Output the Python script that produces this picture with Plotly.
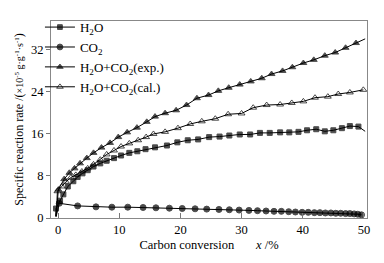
import plotly.graph_objects as go

# H2O (filled squares)
h2o_x = [-0.4, -0.33, 0.33, 0.87, 1.6, 2.5, 3.2, 4.0, 4.85, 5.8, 6.9, 7.95, 9.15, 10.3, 11.65, 12.96, 14.3,
         15.85, 17.8, 19.5, 21.2, 22.9, 24.7, 26.4, 28.0, 29.7, 31.4, 33.0, 34.6, 36.3, 37.8, 39.3,
         40.7, 42.2, 43.6, 45.0, 46.4, 47.7, 49.1, 50.2]
h2o_y = [0.3, 1.8, 3.3, 4.5, 6.0, 7.0, 7.8, 8.5, 9.1, 9.8, 10.4, 10.9, 11.4, 11.9, 12.4, 12.7, 13.1,
         13.45, 13.8, 14.4, 14.8, 14.96, 15.4, 15.5, 15.7, 15.9, 15.9, 16.2, 16.2, 16.3, 16.3, 16.4,
         16.7, 16.9, 16.5, 16.7, 17.1, 17.5, 17.4, 16.5]

# CO2 (filled circles)
co2_x = [-0.3, 0.2, 3.2, 6.2, 8.8, 11.4, 13.9, 16.0, 18.2, 20.3, 22.4, 24.3, 26.3, 28.0, 29.6, 31.2, 32.6,
         34.0, 35.3, 36.5, 37.7, 38.8, 39.9, 40.9, 41.9, 42.8, 43.7, 44.6, 45.4, 46.2, 47.0,
         47.7, 48.4, 49.0, 49.6]
co2_y = [0.3, 2.8, 2.3, 2.12, 2.06, 2.06, 2.0, 1.94, 1.87, 1.81, 1.75, 1.69, 1.63, 1.57, 1.51, 1.45, 1.39,
         1.33, 1.27, 1.27, 1.2, 1.14, 1.08, 1.08, 1.02, 1.02, 0.96, 0.96, 0.9, 0.9, 0.84,
         0.84, 0.78, 0.72, 0.6]

# H2O+CO2 (exp.) (filled triangles)
exp_x = [-0.3, 0.05, 1.0, 1.85, 2.7, 3.6, 4.7, 5.8, 7.1, 8.5, 9.85, 11.3, 12.9, 14.5, 15.85, 17.5, 19.3,
         21.0, 22.7, 24.6, 26.2, 27.9, 29.7, 31.5, 33.3, 34.9, 36.7, 38.3, 40.1, 41.8, 43.6,
         45.3, 47.0, 48.7, 50.2]
exp_y = [0.3, 5.4, 7.4, 8.6, 9.45, 10.4, 11.4, 12.4, 13.4, 14.3, 15.4, 16.3, 17.2, 18.3, 19.3, 19.95, 20.5,
         21.5, 22.8, 23.4, 24.2, 24.8, 25.4, 26.0, 26.6, 27.4, 28.0, 28.7, 29.5, 30.1, 30.9,
         31.5, 32.4, 33.3, 34.1]

# H2O+CO2 (cal.) (open triangles)
cal_x = [-0.3, -0.1, 0.6, 1.3, 2.1, 2.9, 3.9, 4.85, 5.8, 6.9, 7.95, 9.15, 10.3, 11.65, 13.1, 14.4, 15.6,
         17.5, 19.6, 21.6, 23.5, 25.7, 27.8, 30.0, 31.9, 34.1, 36.3, 38.2, 40.1, 42.0, 44.1,
         45.8, 47.7, 49.9]
cal_y = [0.3, 5.1, 6.0, 6.9, 7.7, 8.2, 8.85, 9.45, 10.2, 11.1, 12.1, 12.85, 13.6, 14.2, 14.8, 15.4, 16.0,
         16.4, 17.1, 17.9, 18.4, 18.9, 19.75, 19.9, 21.0, 21.5, 21.6, 21.9, 22.2, 22.9, 23.1,
         23.6, 23.9, 24.4]

x_ticks = [0, 10, 20, 30, 40, 50]
y_ticks = [0, 8, 16, 24, 32]

FONT = "Liberation Serif"

def sizes(n, s, last_hidden=False):
    arr = [s] * n
    arr[0] = 0
    if last_hidden:
        arr[-1] = 0
    return arr

fig = go.Figure()
series = [
    ("H<sub>2</sub>O", h2o_x, h2o_y, "square", 5, "black", True),
    ("CO<sub>2</sub>", co2_x, co2_y, "circle", 6, "black", False),
    ("H<sub>2</sub>O+CO<sub>2</sub>(exp.)", exp_x, exp_y, "triangle-up", 6, "black", True),
    ("H<sub>2</sub>O+CO<sub>2</sub>(cal.)", cal_x, cal_y, "triangle-up-open", 6, "black", False),
]
for name, xs, ys, sym, sz, col, lh in series:
    fig.add_trace(go.Scatter(
        x=xs, y=ys, name=name, mode="lines+markers",
        line=dict(color="black", width=1),
        marker=dict(symbol=sym, size=sizes(len(xs), sz, lh), color=col,
                    line=dict(color="black", width=1)),
    ))

fig.update_layout(
    width=384, height=263,
    margin=dict(l=51, r=17, t=12, b=45),
    paper_bgcolor="white", plot_bgcolor="white",
    font=dict(family=FONT, size=12, color="black"),
    showlegend=True,
    legend=dict(x=-0.035, y=1.045, xanchor="left", yanchor="top",
                bgcolor="rgba(0,0,0,0)", font=dict(family=FONT, size=13),
                itemwidth=30, tracegroupgap=0),
    xaxis=dict(range=[-1.15, 50.5], tickvals=x_ticks, ticks="inside", ticklen=5,
               tickcolor="#777", showline=True, linecolor="#888", mirror=True,
               showgrid=False, zeroline=False, automargin=False,
               tickfont=dict(family=FONT, size=12.5),
               title=dict(text="Carbon conversion" + "\u00a0" * 7 + "<i>x</i> /%", standoff=4,
                          font=dict(family=FONT, size=12.5))),
    yaxis=dict(range=[0, 37.5], tickvals=y_ticks, ticks="outside", ticklen=4,
               tickcolor="#777", showline=True, linecolor="#888", mirror=True,
               showgrid=False, zeroline=False, automargin=False,
               tickfont=dict(family=FONT, size=12.5),
               title=dict(text="Specific reaction rate /(<span style='font-size:10px'>×10<sup>-5</sup> g·g<sup>-1</sup>·s<sup>-1</sup></span>)",
                          standoff=4, font=dict(family=FONT, size=12))),
)

fig.write_html("out.html", config={"displayModeBar": False},
               post_script="document.body.style.margin='0';document.body.style.overflow='hidden';")
